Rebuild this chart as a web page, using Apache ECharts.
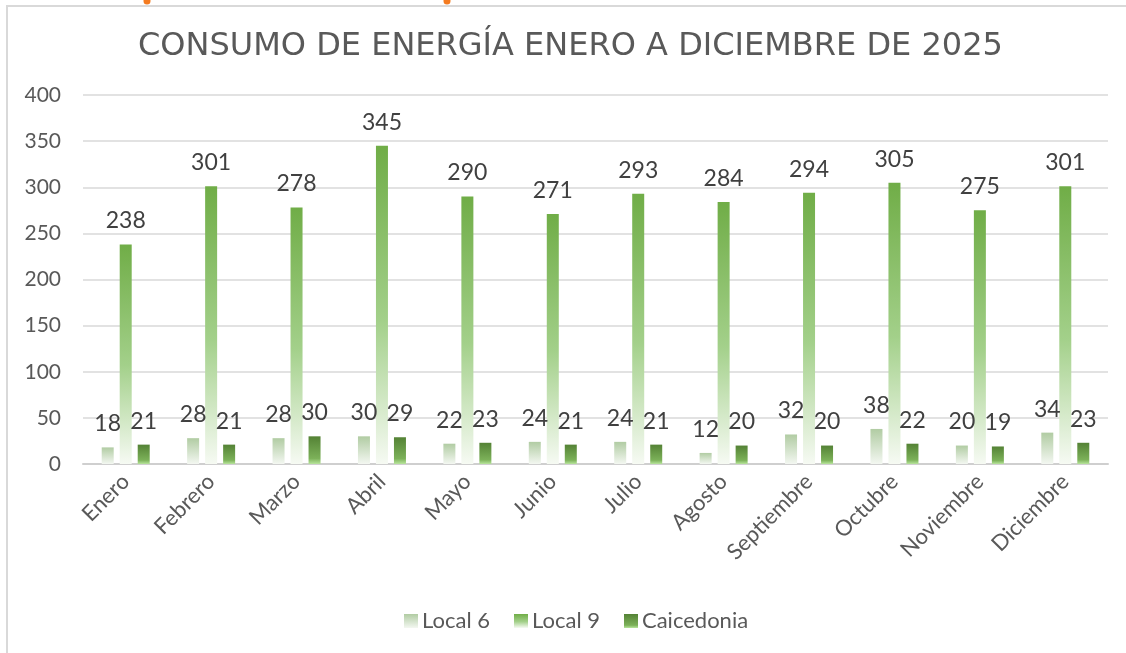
<!DOCTYPE html>
<html>
<meta charset="UTF-8">
<title>consumo-energia</title>
<style type="text/css">
    html,
    body {
        margin: 0px;
        height: 100%;
        width: 100%;
        background: #fff;
    }

    #chart {
        width: 1126px;
        height: 653px;
    }
</style>
<script src="https://cdn.jsdelivr.net/npm/echarts@6/dist/echarts.min.js"></script>

<body>
    <div id="chart"></div>
    <script>
        const months = ['Enero', 'Febrero', 'Marzo', 'Abril', 'Mayo', 'Junio', 'Julio',
            'Agosto', 'Septiembre', 'Octubre', 'Noviembre', 'Diciembre'];
        const local6 = [18, 28, 28, 30, 22, 24, 24, 12, 32, 38, 20, 34];
        const local9 = [238, 301, 278, 345, 290, 271, 293, 284, 294, 305, 275, 301];
        const caicedonia = [21, 21, 30, 29, 23, 21, 21, 20, 20, 22, 19, 23];

        const txt = '#595959';
        const font = 'Lato';

        function grad(stops) {
            return new echarts.graphic.LinearGradient(0, 0, 0, 1,
                stops.map(([offset, color]) => ({ offset, color })));
        }

        function bar(name, data, color) {
            return {
                name,
                type: 'bar',
                data,
                barWidth: 12,
                barGap: '50%',
                itemStyle: { color },
                label: {
                    show: true,
                    position: 'top',
                    distance: 12,
                    color: '#404040',
                    fontFamily: font,
                    fontSize: 23
                }
            };
        }

        const chart = echarts.init(document.querySelector('#chart'));
        chart.setOption({
            animation: false,
            graphic: [
                {
                    type: 'rect',
                    shape: { x: 7, y: 6, width: 1300, height: 800 },
                    style: { fill: 'none', stroke: '#d9d9d9', lineWidth: 2 }
                },
                { type: 'circle', shape: { cx: 147, cy: 1, r: 3.5 }, style: { fill: '#f47b20' } },
                { type: 'circle', shape: { cx: 447, cy: 1, r: 3.5 }, style: { fill: '#f47b20' } }
            ],
            title: {
                text: 'CONSUMO DE ENERGÍA ENERO A DICIEMBRE DE 2025',
                left: 133,
                top: 26,
                textStyle: {
                    color: txt,
                    fontFamily: 'DejaVu Sans',
                    fontWeight: 'normal',
                    fontSize: 32
                }
            },
            legend: {
                bottom: 16,
                left: 399,
                itemWidth: 14,
                itemHeight: 14,
                itemGap: 24,
                icon: 'rect',
                textStyle: { color: txt, fontFamily: font, fontSize: 22, padding: [0, 0, 0, -1] }
            },
            grid: { left: 83, right: 18, top: 95, bottom: 189 },
            xAxis: {
                type: 'category',
                data: months,
                axisLine: { lineStyle: { color: '#cfcfcf', width: 2 } },
                axisTick: { show: false },
                axisLabel: {
                    rotate: 45,
                    margin: 14,
                    color: txt,
                    fontFamily: font,
                    fontSize: 22
                }
            },
            yAxis: {
                type: 'value',
                min: 0,
                max: 400,
                interval: 50,
                axisLine: { show: false },
                axisTick: { show: false },
                splitLine: { lineStyle: { color: '#d9d9d9', width: 1.5 } },
                axisLabel: {
                    margin: 22,
                    color: txt,
                    fontFamily: font,
                    fontSize: 21
                }
            },
            series: [
                bar('Local 6', local6, grad([[0, '#b1cca3'], [1, '#f3f7f1']])),
                bar('Local 9', local9, grad([[0, '#70ad47'], [0.55, '#a3d08a'], [1, '#f6faf3']])),
                bar('Caicedonia', caicedonia, grad([[0, '#548235'], [0.8, '#7cb159'], [1, '#b8e59c']]))
            ]
        });
    </script>
</body>

</html>
